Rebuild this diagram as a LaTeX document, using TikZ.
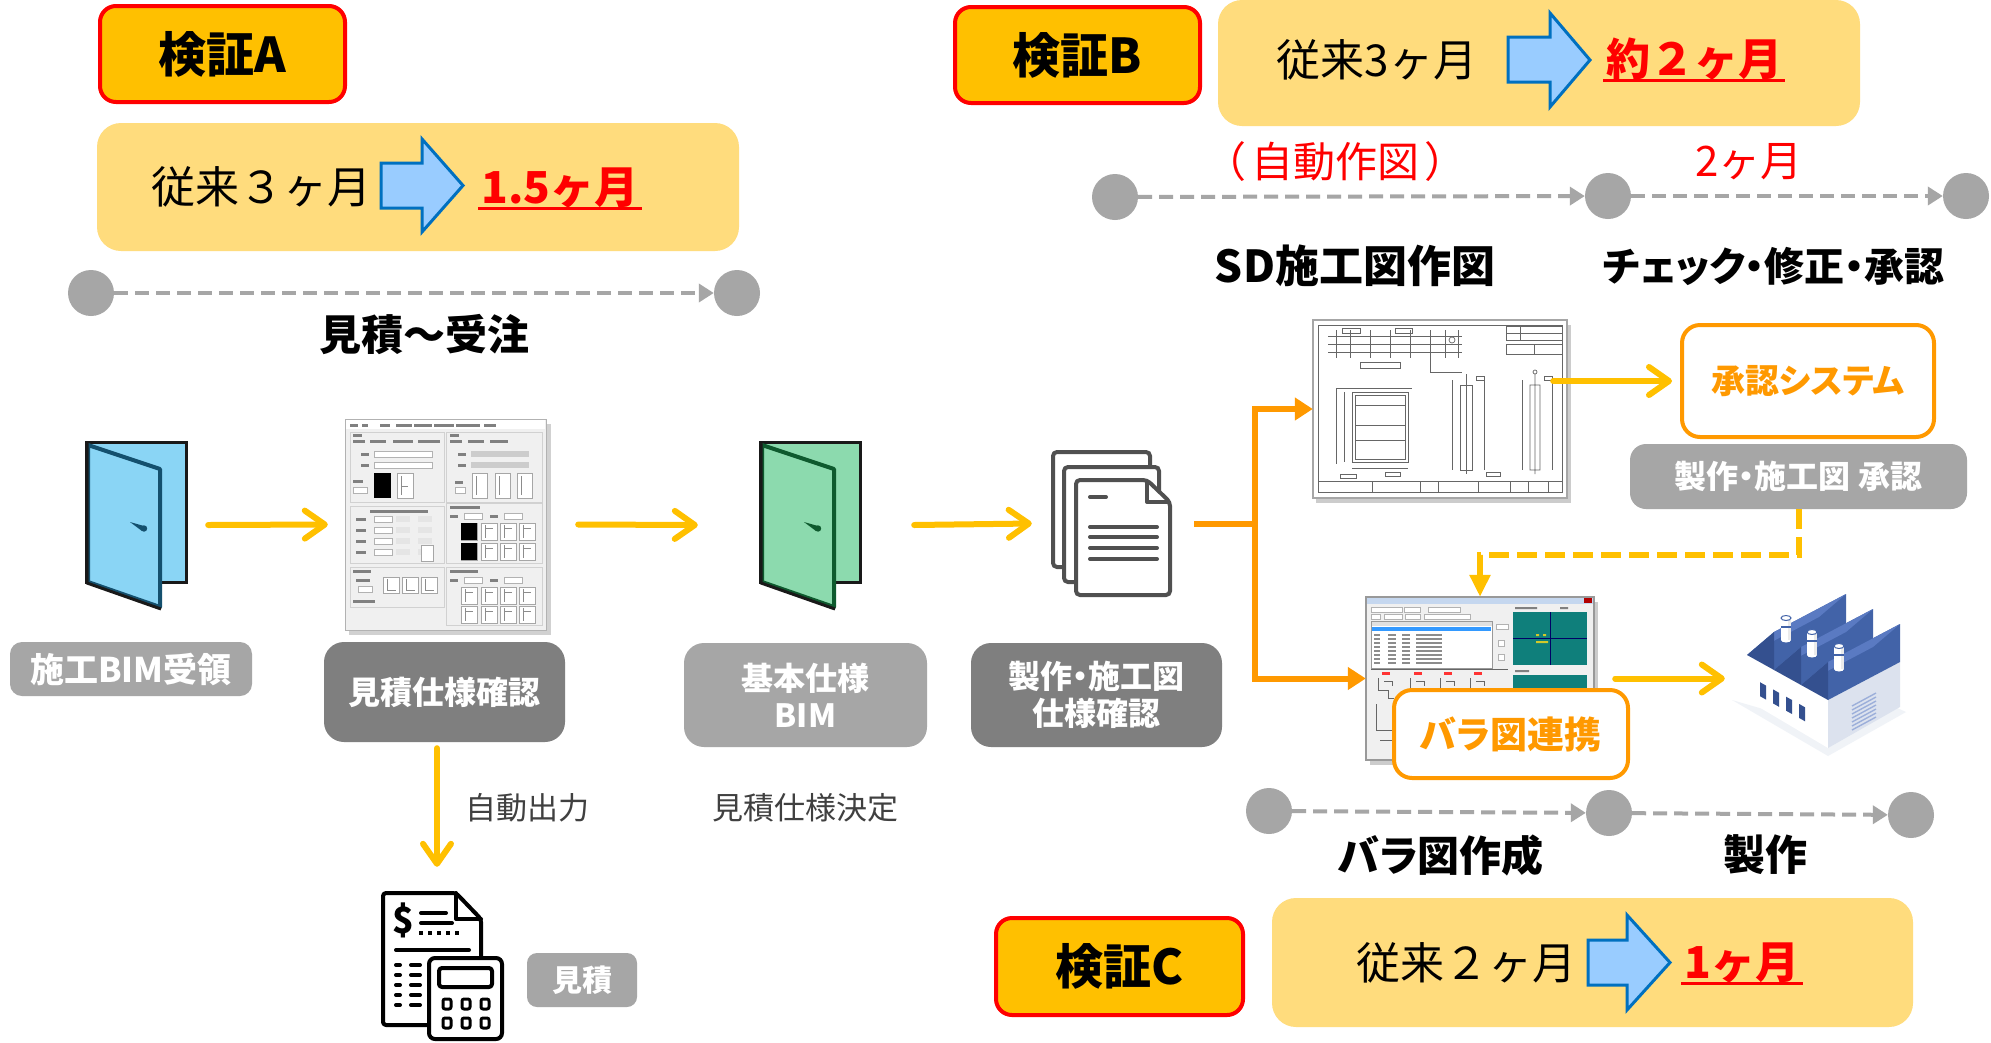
\documentclass[tikz,border=0pt]{standalone}
\usepackage{fontspec}
\setmainfont{Noto Sans CJK JP}[RawFeature={+palt}]
\newfontfamily\jpwide{Noto Sans CJK JP}
\usetikzlibrary{arrows.meta,calc}

\definecolor{vgold}{HTML}{FFC000}
\definecolor{vred}{HTML}{FF0000}
\definecolor{cream}{HTML}{FFDC7D}
\definecolor{skyarrow}{HTML}{99CCFF}
\definecolor{arrowedge}{HTML}{0070C0}
\definecolor{tlgray}{HTML}{A6A6A6}
\definecolor{lightlab}{HTML}{A6A6A6}
\definecolor{darklab}{HTML}{7F7F7F}
\definecolor{flowor}{HTML}{FF9900}
\definecolor{icongray}{HTML}{505050}
\definecolor{notegray}{HTML}{404040}
\definecolor{doorblue}{HTML}{8AD5F5}
\definecolor{doorblueDk}{HTML}{14506E}
\definecolor{doorgreen}{HTML}{8CDAAE}
\definecolor{doorgreenDk}{HTML}{0E5A2E}
\definecolor{uibg}{HTML}{F0F0F0}
\definecolor{titleblue}{HTML}{C5D7EF}
\definecolor{hlblue}{HTML}{3399FF}
\definecolor{tealpane}{HTML}{0F7F7B}
\definecolor{roofslope}{HTML}{5A7AC2}
\definecolor{roofwall}{HTML}{4263A8}
\definecolor{roofside}{HTML}{34508F}
\definecolor{facegray}{HTML}{DCE2EE}

\newcommand\jsize[1]{\fontsize{#1}{#1}\selectfont}
\newcommand\drawdoor[4]{%
  \begin{scope}[shift={(#1,#2)}]
    \filldraw[fill=#3, draw=black!90, line width=3pt] (0,0) rectangle (100,140);
    \filldraw[fill=#3, draw=#4, line width=4pt, line join=round]
      (2,3) -- (74,27) -- (74,165) -- (2,140) -- cycle;
    \draw[black!90, line width=3pt, line join=round] (1,1) -- (1,141) -- (75,167);
    \fill[#4] (44,80) -- (58,84) -- (56,89) -- cycle;
    \fill[#4] (58,86.5) circle (3.2pt);
  \end{scope}}

\begin{document}
\begin{tikzpicture}[x=1pt,y=-1pt,
  verif/.style={draw=vred, line width=4pt, fill=vgold, rounded corners=16pt,
    minimum width=245pt, minimum height=96pt, inner sep=0pt, font=\jsize{48}\bfseries},
  gainbox/.style={fill=cream, rounded corners=24pt, inner sep=0pt},
  oldtxt/.style={font=\jpwide\jsize{44}, inner sep=0pt},
  newtxt/.style={font=\jpwide\jsize{44}\bfseries, text=vred, inner xsep=3pt, inner ysep=0pt, anchor=base},
  uline/.style={draw=vred, line width=3pt},
  bigarrow/.style={fill=skyarrow, draw=arrowedge, line width=3pt, line join=miter},
  tlnode/.style={circle, fill=tlgray, minimum size=46pt, inner sep=0pt},
  tl/.style={draw=tlgray, line width=4pt, dash pattern=on 14pt off 7pt,
    -{Triangle[length=15pt,width=18pt]}},
  phase/.style={font=\jsize{40}\bfseries, inner sep=0pt},
  redtxt/.style={font=\jpwide\jsize{40}, text=vred, inner sep=0pt},
  labelbox/.style={rounded corners=16pt, text=white, font=\fontsize{32}{37}\selectfont\bfseries,
    align=center, inner sep=0pt},
  orbox/.style={draw=flowor, line width=4pt, fill=white, rounded corners=18pt, text=flowor,
    font=\jsize{36}\bfseries, inner sep=0pt},
  note/.style={font=\jsize{31}, text=notegray, inner sep=0pt},
  holder/.style={inner sep=0pt},
  yarrow/.style={draw=vgold, line width=6pt, line cap=round,
    -{Straight Barb[length=20pt,width=28pt,round]}},
  oline/.style={draw=flowor, line width=6pt, line join=miter},
  oarrow/.style={oline, -{Triangle[length=18pt,width=22pt]}},
  darrow/.style={draw=vgold, line width=6pt, dash pattern=on 20pt off 8pt,
    -{Triangle[length=22pt,width=20pt]}},
  panel/.style={draw=black!18, line width=0.8pt},
  thumb/.style={fill=white, draw=black!35, line width=0.6pt},
  field/.style={fill=white, draw=black!30, line width=0.6pt},
  mk/.style={fill=black!50},
  cad/.style={draw=black!60, line width=0.7pt},
]
\useasboundingbox (0,0) rectangle (1991,1042);
\fill[white] (0,0) rectangle (1991,1042);

% ---------------- Verification A ----------------
\node[verif] (vA) at (222.5,54) {検証A};
\node[gainbox, minimum width=642pt, minimum height=128pt] (gA) at (418,187) {};
\node[oldtxt] (gA-old) at (261,187) {従来３ヶ月};
\filldraw[bigarrow] (381,163) -- (422,163) -- (422,139) -- (463,185.5) -- (422,232)
  -- (422,208) -- (381,208) -- cycle;
\node[newtxt] (gA-new) at (560,203) {1.5ヶ月};
\draw[uline] ([yshift=-5pt]gA-new.base west) -- ([yshift=-5pt]gA-new.base east);

\node[tlnode] (tA1) at (91,293) {};
\node[tlnode] (tA2) at (737,293) {};
\draw[tl] (tA1) -- (tA2);
\node[phase, font=\jsize{42}\bfseries] (pA) at (424,335) {見積～受注};

% ---------------- Verification B ----------------
\node[verif] (vB) at (1077.5,55) {検証B};
\node[gainbox, minimum width=642pt, minimum height=126pt] (gB) at (1539,63) {};
\node[oldtxt] (gB-old) at (1377,60) {従来3ヶ月};
\filldraw[bigarrow] (1508,37) -- (1550,37) -- (1550,13) -- (1590,60) -- (1550,107)
  -- (1550,82) -- (1508,82) -- cycle;
\node[newtxt] (gB-new) at (1694,75) {約２ヶ月};
\draw[uline] ([yshift=-5pt]gB-new.base west) -- ([yshift=-5pt]gB-new.base east);

\node[redtxt, font=\jpwide\jsize{42}] (autodraw) at (1335,162) {（\kern5pt 自動作図\kern5pt）};
\node[redtxt, font=\jpwide\jsize{42}] (twomonth) at (1749,162) {2ヶ月};
\node[tlnode] (tB1) at (1115,197) {};
\node[tlnode] (tB2) at (1608,196) {};
\node[tlnode] (tB3) at (1966,196) {};
\draw[tl] (tB1) -- (tB2);
\draw[tl] (tB2) -- (tB3);
\node[phase, font=\jsize{44}\bfseries] (pB1) at (1355,266) {SD施工図作図};
\node[phase] (pB2) at (1774,266) {チェック・修正・承認};

% ---------------- Flow: icons and labels ----------------
\node[holder, minimum width=100pt, minimum height=166pt] (doorA) at (136,525) {};
\drawdoor{86}{442}{doorblue}{doorblueDk}
\node[labelbox, fill=lightlab, minimum width=242pt, minimum height=54pt, rounded corners=12pt,
  font=\jsize{34}\bfseries] (recv) at (131,669) {施工BIM受領};

% estimate dialog window
\node[holder, minimum width=201pt, minimum height=211pt] (shot1) at (445.5,524.5) {};
\fill[black, opacity=0.18] (349,424) rectangle (551,635);
\filldraw[fill=uibg, draw=black!30, line width=1pt] (345,419) rectangle (546,630);
\fill[white] (346,420) rectangle (545,429);
\foreach \x/\w in {350/8,362/6,380/10,396/16,414/18,434/20,456/24,484/12}
  \fill[mk] (\x,423.5) rectangle ++(\w,3);
\draw[panel] (350,432) rectangle (444,502);
\draw[panel] (446,432) rectangle (542,502);
\draw[panel] (350,506) rectangle (444,563);
\draw[panel] (446,503) rectangle (542,563);
\draw[panel] (350,567) rectangle (444,607);
\draw[panel] (446,567) rectangle (542,625);
\fill[mk] (353,434) rectangle ++(9,3);
\fill[mk] (450,434) rectangle ++(9,3);
\foreach \x/\w in {353/12,370/16,393/20,418/22,450/12,468/16,490/18}
  \fill[mk] (\x,440) rectangle ++(\w,3);
\draw[field] (374,451) rectangle (432,457);
\draw[field] (374,462) rectangle (432,468);
\fill[mk] (361,452.5) rectangle ++(8,3);
\fill[mk] (361,463.5) rectangle ++(8,3);
\fill[black!20] (471,451) rectangle (529,457);
\fill[black!20] (471,462) rectangle (529,468);
\fill[mk] (458,452.5) rectangle ++(8,3);
\fill[mk] (458,463.5) rectangle ++(8,3);
\fill[black] (374,473) rectangle (391,498);
\draw[thumb] (397,473) rectangle (413,498);
\draw[black!45, line width=0.6pt] (401,476) -- (401,495) (401,486) -- (408,486);
\fill[mk] (353,480) rectangle ++(10,3);
\draw[field] (353,487) rectangle (367,493);
\foreach \x in {472,495,517} {
  \draw[thumb] (\x,473) rectangle ++(15,25);
  \draw[black!45, line width=0.6pt] (\x+4,476) -- (\x+4,495);
}
\fill[mk] (455,481) rectangle ++(8,3);
\draw[field] (455,487) rectangle (465,493);
\fill[mk] (370,510) rectangle ++(58,3);
\foreach \y in {516,527,538,549} {
  \fill[mk] (356,\y+1.5) rectangle ++(10,3);
  \draw[field] (374,\y) rectangle ++(18,6);
  \fill[black!10] (396,\y) rectangle ++(14,6);
  \fill[black!10] (418,\y) rectangle ++(14,6);
}
\draw[thumb] (421,545) rectangle (433,561);
\fill[mk] (450,506) rectangle ++(30,3);
\fill[mk] (450,515) rectangle ++(8,3);
\draw[field] (464,513) rectangle (482,519);
\fill[mk] (490,515) rectangle ++(8,3);
\draw[field] (504,513) rectangle (522,519);
\foreach \x in {461,481,500,519} \foreach \y in {523,543} {
  \draw[thumb] (\x,\y) rectangle ++(16,17);
  \draw[black!45, line width=0.6pt] (\x+4,\y+2) -- (\x+4,\y+15) (\x+4,\y+5) -- (\x+12,\y+5);
}
\fill[black] (461,523) rectangle ++(16,17);
\fill[black] (461,543) rectangle ++(16,17);
\fill[mk] (353,570) rectangle ++(18,3);
\fill[mk] (356,579) rectangle ++(14,3);
\draw[field] (358,586) rectangle (372,592);
\fill[mk] (353,600) rectangle ++(22,3);
\foreach \x in {383,402,421} {
  \draw[thumb] (\x,577) rectangle ++(16,16);
  \draw[black!45, line width=0.6pt] (\x+4,579) -- (\x+4,590) -- (\x+13,590);
}
\fill[mk] (450,570) rectangle ++(28,3);
\fill[mk] (450,579) rectangle ++(8,3);
\draw[field] (464,577) rectangle (482,583);
\fill[mk] (490,579) rectangle ++(8,3);
\draw[field] (504,577) rectangle (522,583);
\foreach \x in {461,481,500,519} \foreach \y in {587,606} {
  \draw[thumb] (\x,\y) rectangle ++(16,17);
  \draw[black!45, line width=0.6pt] (\x+4,\y+2) -- (\x+4,\y+15) (\x+4,\y+5) -- (\x+12,\y+5);
}
\node[labelbox, fill=darklab, minimum width=241pt, minimum height=100pt, rounded corners=20pt]
  (estchk) at (444.5,692) {見積仕様確認};

\node[holder, minimum width=100pt, minimum height=166pt] (doorB) at (810,525) {};
\drawdoor{760}{442}{doorgreen}{doorgreenDk}
\node[labelbox, fill=lightlab, minimum width=243pt, minimum height=104pt, rounded corners=20pt]
  (basebim) at (805.5,695) {基本仕様\\BIM};

% stacked documents
\node[holder, minimum width=117pt, minimum height=143pt] (docs) at (1111.5,523.5) {};
\begin{scope}[line width=4pt, rounded corners=4pt]
  \filldraw[fill=white, draw=icongray] (1053,452) rectangle (1150,567);
  \filldraw[fill=white, draw=icongray] (1064,467) rectangle (1159,582);
  \filldraw[fill=white, draw=icongray] (1076,480) -- (1147,480) -- (1170,502) -- (1170,595)
    -- (1076,595) -- cycle;
\end{scope}
\draw[icongray, line width=4pt, line join=round] (1147,480) -- (1147,502) -- (1170,502);
\draw[icongray, line width=4pt, line cap=round] (1090,497) -- (1106,497);
\foreach \y in {527,537,548,559}
  \draw[icongray, line width=4pt, line cap=round] (1090,\y) -- (1157,\y);
\node[labelbox, fill=darklab, minimum width=251pt, minimum height=104pt, rounded corners=20pt]
  (fabchk) at (1096.5,695) {製作・施工図\\仕様確認};

% shop drawing sheet
\node[holder, minimum width=254pt, minimum height=178pt] (drawing) at (1440,409) {};
\fill[black, opacity=0.2] (1316,325) rectangle (1571,503);
\filldraw[fill=white, draw=black!35, line width=1.5pt] (1313,320) rectangle (1567,498);
\draw[cad] (1318,325) rectangle (1562,492);
\draw[cad] (1318,481) -- (1562,481);
\foreach \x in {1372,1420,1438,1478,1510,1528,1548} \draw[cad] (\x,481) -- (\x,492);
\draw[cad] (1506,326) rectangle (1562,340) (1506,344) rectangle (1562,354);
\draw[cad] (1520,326) -- (1520,340) (1534,344) -- (1534,354) (1506,333) -- (1562,333);
\draw[cad] (1328,336) -- (1462,336) (1328,344) -- (1462,344) (1328,352) -- (1462,352);
\foreach \x in {1336,1350,1370,1390,1410,1430,1445,1458} \draw[cad] (\x,330) -- (\x,358);
\draw[cad] (1452,340) circle (3pt);
\draw[cad] (1342,328) rectangle (1360,333) (1395,328) rectangle (1412,333);
\draw[cad] (1360,362) rectangle (1400,368) (1430,358) -- (1430,372) -- (1462,372);
\draw[cad] (1352,392) rectangle (1408,462) (1355,395) rectangle (1405,459);
\foreach \y in {405,425,440} \draw[cad] (1355,\y) -- (1405,\y);
\draw[cad] (1336,388) -- (1336,464) (1344,392) -- (1344,462) (1336,388) -- (1412,388);
\draw[cad] (1352,468) -- (1408,468) (1340,474) rectangle (1356,478) (1385,472) rectangle (1400,476);
\draw[cad] (1460,385) rectangle (1472,470) (1466,374) -- (1466,474);
\draw[cad] (1452,380) -- (1452,470) (1484,380) -- (1484,470);
\draw[cad] (1530,385) rectangle (1540,470) (1535,372) circle (2pt) (1535,374) -- (1535,474);
\draw[cad] (1522,380) -- (1522,470) (1552,380) -- (1552,470);
\draw[cad] (1476,376) rectangle (1484,380) (1544,376) rectangle (1552,380) (1486,472) rectangle (1500,476);

% approval system
\node[orbox, minimum width=252pt, minimum height=112pt, font=\jsize{34}\bfseries] (appr) at (1808,381) {承認システム};
\node[labelbox, fill=lightlab, minimum width=337pt, minimum height=65pt] (apprlab) at (1798.5,476.5) {製作・施工図 承認};

% piece drawing window
\node[holder, minimum width=228pt, minimum height=163pt] (shot2) at (1480,678.5) {};
\fill[black, opacity=0.2] (1370,602) rectangle (1598,765);
\filldraw[fill=uibg, draw=black!40, line width=1.2pt] (1366,597) rectangle (1594,760);
\fill[titleblue] (1367,598) rectangle (1593,604);
\fill[red!70!black] (1584,598) rectangle (1592,603);
\draw[field] (1371,607) rectangle (1402,612) (1404,607) rectangle (1420,612) (1428,607) rectangle (1460,612);
\draw[field] (1371,614) rectangle (1380,619) (1384,614) rectangle (1402,619) (1405,614) rectangle (1420,619) (1424,614) rectangle (1470,619);
\filldraw[fill=white, draw=black!40, line width=0.6pt] (1371,621) rectangle (1492,668);
\fill[black!12] (1371.5,621.5) rectangle (1491.5,626);
\fill[hlblue] (1372,627) rectangle (1491,631);
\foreach \y in {634,638,642,646,650,654,658,662} {
  \fill[black!45] (1374,\y) rectangle ++(6,1.6);
  \fill[black!45] (1388,\y) rectangle ++(8,1.6);
  \fill[black!45] (1402,\y) rectangle ++(8,1.6);
  \fill[black!45] (1416,\y) rectangle ++(26,1.6);
}
\draw[field] (1496,624) rectangle (1508,629) (1498,640) rectangle (1504,646) (1498,654) rectangle (1504,660);
\fill[tealpane] (1513,612) rectangle (1587,665);
\draw[blue!40!black, line width=0.6pt] (1513,638.5) -- (1587,638.5) (1550,612) -- (1550,665);
\fill[yellow!80!black] (1536,634) rectangle ++(3,2) (1543,634) rectangle ++(3,2) (1536,641) rectangle ++(12,2);
\fill[mk] (1515,607) rectangle ++(22,2) (1560,607) rectangle ++(8,2) (1515,670) rectangle ++(14,2);
\fill[tealpane] (1513,675) rectangle (1587,759);
\draw[black!60, line width=1pt] (1371,669) -- (1508,669);
\foreach \x in {1378,1410,1440,1470} {
  \fill[red!80] (\x+4,672) rectangle ++(8,3);
  \draw[black!60, line width=0.8pt] (\x,678) -- (\x,690) -- (\x+10,690) -- (\x+10,698) -- (\x+16,698);
  \draw[black!60, line width=0.8pt] (\x+6,681) -- (\x+14,681) -- (\x+14,686);
}
\draw[black!60, line width=0.8pt] (1376,704) -- (1376,730) -- (1392,730) (1380,740) -- (1400,740);

% factory
\node[holder, minimum width=176pt, minimum height=146pt] (factory) at (1813,678.5) {};
\fill[facegray!60, opacity=0.7] (1732,700) -- (1828,756) -- (1906,712) -- (1880,700) -- (1828,728) -- cycle;
\fill[white] (1747,655) -- (1828,700) -- (1828,748) -- (1747,700) -- cycle;
\fill[facegray] (1828,700) -- (1900,662) -- (1900,707) -- (1828,748) -- cycle;
\foreach \k in {0,...,6}
  \draw[roofslope!60, line width=1.4pt] (1852,706+4*\k) -- (1876,693+4*\k);
% sawtooth roof, back tooth first
\fill[roofwall] (1774,670) -- (1774,632) -- (1846,594) -- (1846,632) -- cycle;
\fill[roofslope] (1747,655) -- (1774,632) -- (1846,594) -- (1819,617) -- cycle;
\fill[roofside] (1747,655) -- (1774,670) -- (1774,632) -- cycle;
\fill[roofwall] (1801,685) -- (1801,647) -- (1873,609) -- (1873,647) -- cycle;
\fill[roofslope] (1774,670) -- (1801,647) -- (1873,609) -- (1846,632) -- cycle;
\fill[roofside] (1774,670) -- (1801,685) -- (1801,647) -- cycle;
\fill[roofwall] (1828,700) -- (1828,662) -- (1900,624) -- (1900,662) -- cycle;
\fill[roofslope] (1801,685) -- (1828,662) -- (1900,624) -- (1873,647) -- cycle;
\fill[roofside] (1801,685) -- (1828,700) -- (1828,662) -- cycle;
\foreach \cx/\ct/\cb in {1786/618/640,1812/632/655,1839/646/669} {
  \fill[white] (\cx-5,\ct) rectangle (\cx+5,\cb);
  \fill[white] (\cx,\cb) ellipse (5pt and 2.5pt);
  \fill[black!8] (\cx+2,\ct) rectangle (\cx+5,\cb);
  \filldraw[fill=white, draw=roofwall, line width=1pt] (\cx,\ct) ellipse (5pt and 2.5pt);
  \fill[roofwall] (\cx-5,\ct+8) rectangle (\cx+5,\ct+10);
}
\fill[roofside] (1760,682.2) -- (1766,685.6) -- (1766,699.6) -- (1760,696.2) -- cycle;
\fill[roofside] (1773,689.4) -- (1779,692.8) -- (1779,706.8) -- (1773,703.4) -- cycle;
\fill[roofside] (1786,696.7) -- (1792,700.0) -- (1792,714.0) -- (1786,710.7) -- cycle;
\fill[roofside] (1799,703.9) -- (1805,707.3) -- (1805,721.3) -- (1799,717.9) -- cycle;

\node[orbox, minimum width=234pt, minimum height=88pt, font=\jsize{37}\bfseries] (bara) at (1511,734) {バラ図連携};

% connectors of the flow
\draw[yarrow] ([xshift=22pt]doorA.east) -- ([xshift=-17pt]shot1.west);
\draw[yarrow] ([xshift=32pt]shot1.east) -- ([xshift=-62pt]doorB.west);
\draw[yarrow] ([xshift=54pt]doorB.east) -- ([xshift=-21pt]docs.west);
\coordinate (split) at (1255,523.5);
\draw[oline] ([xshift=24pt]docs.east) -- (split);
\draw[oarrow] (split) |- (drawing.west);
\draw[oarrow] (split) |- (shot2.west);
\draw[yarrow] ([xshift=-14pt,yshift=28pt]drawing.east) -- ([xshift=-8pt]appr.west);
\draw[darrow] (apprlab.south) -- ++(0,46) -| (shot2.north);
\draw[yarrow] ([xshift=21pt]shot2.east) -- (factory.west);

% estimate output
\node[holder, minimum width=120pt, minimum height=149pt] (esticon) at (442.5,967.5) {};
\draw[yarrow] ([xshift=-7.5pt,yshift=-6pt]estchk.south) -- ([xshift=-5.5pt,yshift=26pt]esticon.north);
\begin{scope}[line width=4pt, line join=round, line cap=round]
  \draw[rounded corners=3pt] (429,1025) -- (383,1025) -- (383,893) -- (456,893) -- (481,919) -- (481,958);
  \draw (456,893) -- (456,919) -- (481,919);
  \draw (421,913) -- (446,913);
  \draw (421,923) -- (452,923);
  \draw (396,950) -- (469,950);
  \foreach \y in {965,975,985,995,1005} {
    \draw (396,\y) -- (400,\y);
    \draw (411,\y) -- (420,\y);
  }
  \filldraw[fill=white, rounded corners=6pt] (429,958) rectangle (502,1039);
  \draw[rounded corners=3pt] (439,968) rectangle (492,987);
  \foreach \x in {447,466,485} \foreach \y in {1004,1023}
    \draw[line width=3pt, rounded corners=2pt] (\x-4,\y-5) rectangle (\x+4,\y+5);
\end{scope}
\foreach \x in {421,430,439,448,457} \fill (\x-2,931) rectangle ++(4,4);
\node[inner sep=0pt, font=\jsize{36}\bfseries] (dollar) at (403,920) {\$};
\node[labelbox, fill=lightlab, minimum width=110pt, minimum height=54pt, rounded corners=10pt,
  font=\jsize{30}\bfseries] (estlab) at (582,980) {見積};

\node[note] (autoout) at (527,808) {自動出力};
\node[note] (decide) at (805,808) {見積仕様決定};

% ---------------- timeline of verification C ----------------
\node[tlnode] (tC1) at (1269,811) {};
\node[tlnode] (tC2) at (1609,813) {};
\node[tlnode] (tC3) at (1911,815) {};
\draw[tl] (tC1) -- (tC2);
\draw[tl] (tC2) -- (tC3);
\node[phase, font=\jsize{42}\bfseries] (pC1) at (1441,855) {バラ図作成};
\node[phase, font=\jsize{42}\bfseries] (pC2) at (1765,855) {製作};

% ---------------- Verification C ----------------
\node[verif, minimum width=247pt, minimum height=97pt] (vC) at (1119.5,966.5) {検証C};
\node[gainbox, minimum width=641pt, minimum height=129pt] (gC) at (1592.5,962.5) {};
\node[oldtxt] (gC-old) at (1466,963) {従来２ヶ月};
\filldraw[bigarrow] (1588,940) -- (1627,940) -- (1627,915) -- (1670,962.5) -- (1627,1010)
  -- (1627,985) -- (1588,985) -- cycle;
\node[newtxt] (gC-new) at (1742,978) {1ヶ月};
\draw[uline] ([yshift=-5pt]gC-new.base west) -- ([yshift=-5pt]gC-new.base east);
\end{tikzpicture}
\end{document}
